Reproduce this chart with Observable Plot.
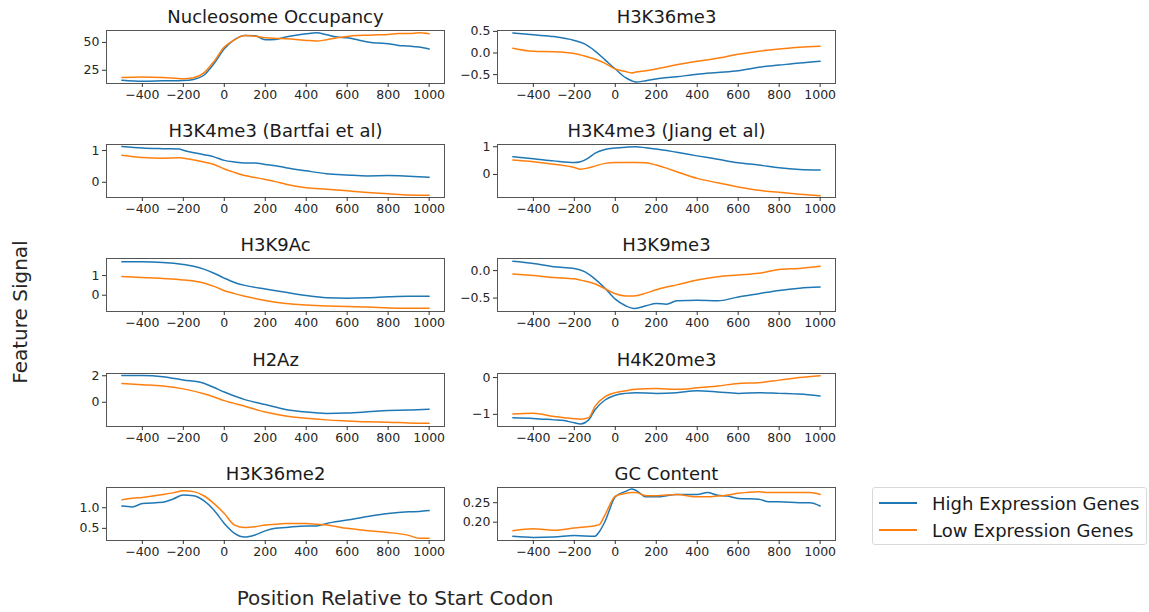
<!DOCTYPE html>
<html>
<head>
<meta charset="utf-8">
<script src="https://cdn.jsdelivr.net/npm/d3@7"></script>
<script src="https://cdn.jsdelivr.net/npm/@observablehq/plot@0.6"></script>
<style>
  html, body { margin: 0; padding: 0; background: #fff; }
  #root { position: relative; width: 1149px; height: 612px; overflow: hidden; font-family: "DejaVu Sans", sans-serif; color: #262626; }
  .panel { position: absolute; }
  .lbl { position: absolute; font-size: 20px; white-space: nowrap; }
  #legend { position: absolute; left: 872px; top: 487px; width: 275px; height: 58px; border: 1px solid #d9d9d9; border-radius: 3px; box-sizing: border-box; background: #fff; }
  .lrow { position: absolute; left: 6px; height: 20px; display: flex; align-items: center; font-size: 18px; color: #1a1a1a; }
  .lrow span.sw { display: inline-block; width: 38px; height: 0; border-top: 2px solid; margin-right: 15px; }
</style>
</head>
<body>
<div id="root"></div>
<script>
// ---------------- data ----------------
const seriesNames = ["High Expression Genes", "Low Expression Genes"];
const seriesColors = ["#1f77b4", "#ff7f0e"];
const xTicks = [-400, -200, 0, 200, 400, 600, 800, 1000];

const panelTitles = ["Nucleosome Occupancy", "H3K36me3", "H3K4me3 (Bartfai et al)", "H3K4me3 (Jiang et al)",
  "H3K9Ac", "H3K9me3", "H2Az", "H4K20me3", "H3K36me2", "GC Content"];

// Nucleosome Occupancy
const nucX    = [-500,-400,-300,-200,-150,-100,-50,0,50,100,150,200,250,300,350,400,450,500,550,600,650,700,750,800,850,900,950,1000];
const nucHigh = [16.1,15.2,15.5,15.8,16.7,20.5,31,44.3,52.4,56.2,56,52.4,52.7,54.8,56.5,57.7,58.6,56.8,54.8,54.2,52.4,50.3,49.4,48.8,47.3,46.7,45.8,44];
const nucLow  = [18.5,19,18.5,17.3,18.2,22.6,33,45.8,52.4,56.2,55.6,54.2,53.6,53.3,52.7,51.8,51.2,52.4,54.2,55.4,56.2,56.5,56.8,57.1,58,58,58.6,57.7];
const nucYTicks = [25, 50];

// H3K36me3
const k36me3X    = [-500,-400,-300,-200,-150,-100,-50,0,50,80,100,150,200,300,400,500,600,700,800,900,1000];
const k36me3High = [0.465,0.42,0.38,0.29,0.21,0.05,-0.16,-0.37,-0.57,-0.64,-0.67,-0.64,-0.6,-0.55,-0.49,-0.45,-0.41,-0.33,-0.28,-0.23,-0.19];
const k36me3Low  = [0.11,0.04,0.03,-0.01,-0.07,-0.14,-0.24,-0.37,-0.43,-0.46,-0.44,-0.41,-0.37,-0.27,-0.19,-0.12,-0.03,0.04,0.09,0.13,0.155];
const k36me3YTicks = [-0.5, 0, 0.5];

// H3K4me3 (Bartfai et al)
const bartX    = [-500,-400,-300,-220,-200,-100,-50,0,50,100,150,200,250,300,400,500,600,700,800,900,1000];
const bartHigh = [1.13,1.08,1.06,1.05,1.01,0.87,0.8,0.69,0.64,0.61,0.61,0.56,0.52,0.46,0.36,0.27,0.23,0.2,0.21,0.19,0.16];
const bartLow  = [0.85,0.78,0.76,0.77,0.76,0.64,0.56,0.42,0.31,0.21,0.15,0.09,0.02,-0.06,-0.17,-0.22,-0.27,-0.32,-0.36,-0.4,-0.41];
const bartYTicks = [0, 1];

// H3K4me3 (Jiang et al)
const jiangX    = [-500,-400,-300,-200,-170,-130,-100,-50,0,50,100,150,200,300,400,500,600,700,800,900,1000];
const jiangHigh = [0.64,0.57,0.49,0.43,0.46,0.6,0.76,0.9,0.95,0.98,1.0,0.96,0.92,0.8,0.67,0.55,0.42,0.34,0.24,0.18,0.16];
const jiangLow  = [0.52,0.46,0.37,0.25,0.19,0.24,0.3,0.4,0.43,0.43,0.43,0.42,0.34,0.1,-0.14,-0.3,-0.45,-0.57,-0.64,-0.71,-0.77];
const jiangYTicks = [0, 1];

// H3K9Ac
const k9acX    = [-500,-400,-300,-200,-150,-100,-50,0,50,100,200,300,400,500,600,700,800,900,1000];
const k9acHigh = [1.7,1.7,1.67,1.57,1.48,1.33,1.12,0.87,0.65,0.5,0.32,0.15,-0.02,-0.13,-0.15,-0.13,-0.08,-0.05,-0.05];
const k9acLow  = [0.95,0.9,0.85,0.78,0.72,0.62,0.45,0.23,0.08,-0.05,-0.27,-0.42,-0.5,-0.55,-0.58,-0.6,-0.65,-0.67,-0.67];
const k9acYTicks = [0, 1];

// H3K9me3
const k9me3X    = [-500,-400,-300,-200,-150,-100,-50,0,50,90,150,200,250,300,400,500,600,700,800,900,1000];
const k9me3High = [0.17,0.13,0.07,0.04,-0.02,-0.15,-0.32,-0.52,-0.64,-0.69,-0.64,-0.6,-0.61,-0.55,-0.54,-0.55,-0.48,-0.42,-0.36,-0.32,-0.3];
const k9me3Low  = [-0.06,-0.09,-0.125,-0.15,-0.19,-0.24,-0.33,-0.42,-0.46,-0.46,-0.41,-0.35,-0.3,-0.26,-0.17,-0.11,-0.08,-0.05,0.02,0.04,0.08];
const k9me3YTicks = [-0.5, 0];

// H2Az
const h2azX    = [-500,-400,-300,-200,-100,-50,0,100,200,300,400,500,600,700,800,900,1000];
const h2azHigh = [2.02,2.02,1.93,1.68,1.43,1.11,0.77,0.2,-0.17,-0.54,-0.74,-0.84,-0.81,-0.72,-0.62,-0.59,-0.52];
const h2azLow  = [1.41,1.33,1.23,1.01,0.64,0.4,0.12,-0.3,-0.74,-1.04,-1.21,-1.33,-1.41,-1.48,-1.5,-1.56,-1.58];
const h2azYTicks = [0, 2];

// H4K20me3
const k20X    = [-500,-400,-300,-250,-200,-170,-130,-100,-50,0,50,100,200,300,400,500,600,700,800,900,1000];
const k20High = [-1.09,-1.11,-1.15,-1.17,-1.23,-1.26,-1.15,-0.88,-0.61,-0.48,-0.43,-0.41,-0.43,-0.41,-0.36,-0.39,-0.43,-0.41,-0.43,-0.45,-0.5];
const k20Low  = [-0.99,-0.97,-1.06,-1.09,-1.12,-1.13,-1.09,-0.79,-0.52,-0.41,-0.36,-0.32,-0.3,-0.32,-0.28,-0.23,-0.16,-0.14,-0.07,0.0,0.05];
const k20YTicks = [-1, 0];

// H3K36me2
const k36me2X    = [-500,-450,-400,-300,-250,-200,-150,-100,-50,0,50,100,150,200,250,300,400,450,500,600,700,800,900,950,1000];
const k36me2High = [1.04,1.02,1.1,1.13,1.21,1.31,1.29,1.17,0.94,0.62,0.38,0.29,0.34,0.44,0.5,0.52,0.56,0.56,0.62,0.7,0.79,0.86,0.9,0.91,0.93];
const k36me2Low  = [1.19,1.23,1.25,1.32,1.36,1.41,1.39,1.29,1.1,0.86,0.58,0.52,0.54,0.58,0.6,0.62,0.62,0.6,0.58,0.5,0.44,0.4,0.33,0.26,0.26];
const k36me2YTicks = [0.5, 1.0];

// GC Content
const gcX    = [-500,-400,-300,-200,-100,-80,-50,0,50,80,100,150,200,300,400,450,500,550,600,700,750,800,900,950,1000];
const gcHigh = [0.1636,0.161,0.162,0.166,0.1636,0.174,0.202,0.265,0.279,0.285,0.282,0.265,0.265,0.271,0.271,0.276,0.269,0.267,0.261,0.259,0.2525,0.2525,0.25,0.25,0.2415];
const gcLow  = [0.178,0.183,0.179,0.185,0.191,0.193,0.219,0.267,0.274,0.276,0.276,0.268,0.268,0.271,0.265,0.265,0.267,0.27,0.274,0.278,0.276,0.276,0.276,0.276,0.271];
const gcYTicks = [0.20, 0.25];

// ---------------- build panels ----------------
const panelData = [
  [nucX, nucHigh, nucLow, nucYTicks, [13.1, 60.7], "d"],
  [k36me3X, k36me3High, k36me3Low, k36me3YTicks, [-0.705, 0.52], ".1f"],
  [bartX, bartHigh, bartLow, bartYTicks, [-0.48, 1.19], "d"],
  [jiangX, jiangHigh, jiangLow, jiangYTicks, [-0.83, 1.08], "d"],
  [k9acX, k9acHigh, k9acLow, k9acYTicks, [-0.83, 1.87], "d"],
  [k9me3X, k9me3High, k9me3Low, k9me3YTicks, [-0.744, 0.22], ".1f"],
  [h2azX, h2azHigh, h2azLow, h2azYTicks, [-1.83, 2.17], "d"],
  [k20X, k20High, k20Low, k20YTicks, [-1.33, 0.11], "d"],
  [k36me2X, k36me2High, k36me2Low, k36me2YTicks, [0.206, 1.49], ".1f"],
  [gcX, gcHigh, gcLow, gcYTicks, [0.153, 0.289], ".2f"]
];

const root = document.getElementById("root");
const rowTops = [30, 144, 258, 373, 487];
const colFrameLeft = [106, 497];
const mL = 66, mR = 10, mT = 30, mB = 30, frameW = 338, frameH = 53;

panelData.forEach((p, i) => {
  const [xs, hi, lo, yt, yd, fmt] = p;
  const rows = xs.flatMap((x, j) => [
    {x, y: hi[j], s: seriesNames[0]},
    {x, y: lo[j], s: seriesNames[1]}
  ]);
  const row = Math.floor(i / 2), col = i % 2;
  const chart = Plot.plot({
    width: mL + frameW + mR,
    height: mT + frameH + mB,
    marginLeft: mL, marginRight: mR, marginTop: mT, marginBottom: mB,
    style: {fontFamily: "DejaVu Sans, sans-serif", fontSize: "12.5px", color: "#262626", background: "transparent", overflow: "visible"},
    x: {domain: [-575, 1075]},
    y: {domain: yd},
    color: {domain: seriesNames, range: seriesColors},
    marks: [
      Plot.line(rows.filter(d => d.s === seriesNames[0]), {x: "x", y: "y", stroke: seriesColors[0], strokeWidth: 1.5, curve: "monotone-x"}),
      Plot.line(rows.filter(d => d.s === seriesNames[1]), {x: "x", y: "y", stroke: seriesColors[1], strokeWidth: 1.5, curve: "monotone-x"}),
      Plot.frame({stroke: "#555", strokeWidth: 1}),
      Plot.axisX({ticks: xTicks, tickSize: 4, tickPadding: 3, label: null, tickFormat: d3.format("d"), stroke: "#333", fill: "#262626"}),
      Plot.axisY({ticks: yt, tickSize: 4, tickPadding: 3, label: null, tickFormat: d3.format(fmt), stroke: "#333", fill: "#262626"}),
      Plot.text([panelTitles[i]], {text: d => d, frameAnchor: "top", lineAnchor: "middle", dy: -13, fontSize: 18, fill: "#1a1a1a"})
    ]
  });
  chart.classList.add("panel");
  chart.style.left = (colFrameLeft[col] - mL) + "px";
  chart.style.top = (rowTops[row] - mT) + "px";
  root.appendChild(chart);
});

// axis labels
const xl = document.createElement("div");
xl.className = "lbl";
xl.textContent = "Position Relative to Start Codon";
xl.style.left = "395px"; xl.style.top = "598px";
xl.style.transform = "translate(-50%, -50%)";
root.appendChild(xl);

const yl = document.createElement("div");
yl.className = "lbl";
yl.textContent = "Feature Signal";
yl.style.left = "20px"; yl.style.top = "312px";
yl.style.transform = "translate(-50%, -50%) rotate(-90deg)";
root.appendChild(yl);

// legend
const lg = document.createElement("div");
lg.id = "legend";
seriesNames.forEach((n, k) => {
  const r = document.createElement("div");
  r.className = "lrow";
  r.style.top = (5 + k * 27) + "px";
  const sw = document.createElement("span");
  sw.className = "sw";
  sw.style.borderTopColor = seriesColors[k];
  r.appendChild(sw);
  const t = document.createElement("span");
  t.textContent = n;
  r.appendChild(t);
  lg.appendChild(r);
});
root.appendChild(lg);
</script>
</body>
</html>
